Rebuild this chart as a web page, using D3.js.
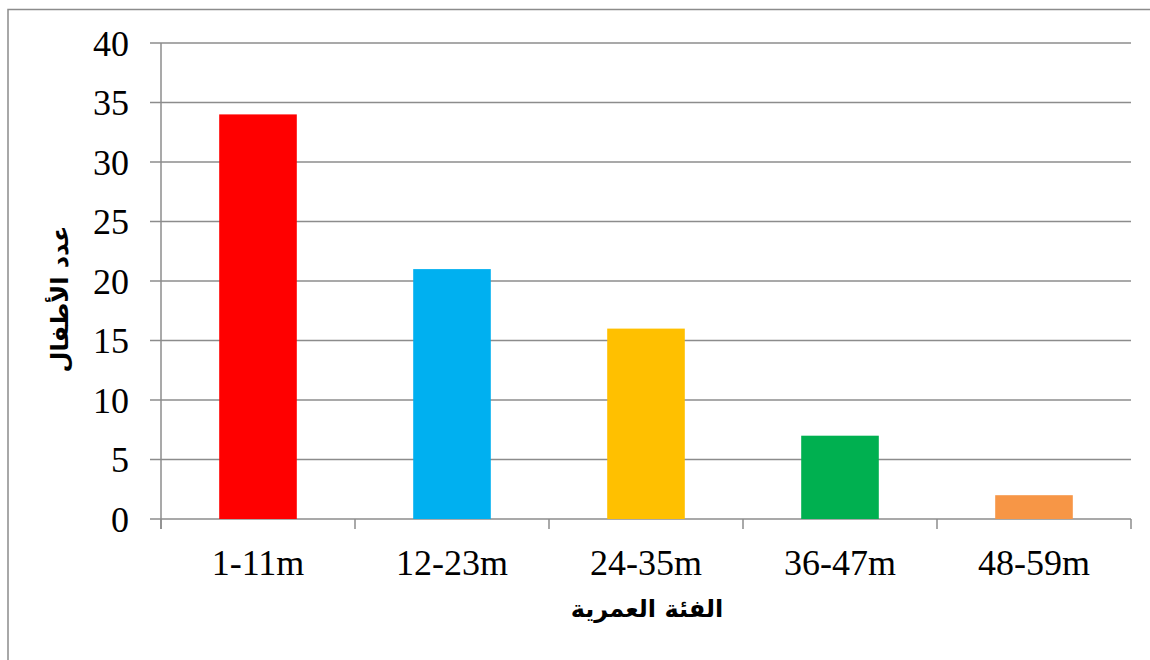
<!DOCTYPE html>
<html>
<head>
<meta charset="utf-8">
<script src="https://cdn.jsdelivr.net/npm/d3@7"></script>
<style>
  html, body { margin: 0; padding: 0; background: #fff; }
  svg { display: block; }
</style>
</head>
<body>
<svg id="chart" width="1150" height="660"></svg>
<script>
// Number of children per age group
const categories = ["1-11m", "12-23m", "24-35m", "36-47m", "48-59m"];
const counts = [34, 21, 16, 7, 2];
const barColors = ["#FF0000", "#00B0F0", "#FFC000", "#00B050", "#F79646"];
const yTicks = [0, 5, 10, 15, 20, 25, 30, 35, 40];
const yTitle = "عدد الأطفال";
const xTitle = "الفئة العمرية";

const svg = d3.select("#chart");
const axisColor = "#8c8c8c";

// chart frame
svg.append("rect")
  .attr("x", 8).attr("y", 9.5)
  .attr("width", 1160).attr("height", 670)
  .attr("fill", "none").attr("stroke", axisColor).attr("stroke-width", 1.5);

const plot = { left: 161, right: 1131, top: 43, bottom: 519 };

const x = d3.scaleBand().domain(categories).range([plot.left, plot.right]).padding(0);
const y = d3.scaleLinear().domain([0, 40]).range([plot.bottom, plot.top]);

// horizontal gridlines + left tick marks
svg.append("g").selectAll("line").data(yTicks).join("line")
  .attr("x1", plot.left - 11).attr("x2", plot.right)
  .attr("y1", d => y(d)).attr("y2", d => y(d))
  .attr("stroke", axisColor).attr("stroke-width", 1.5);

// y axis line
svg.append("line")
  .attr("x1", plot.left).attr("x2", plot.left)
  .attr("y1", plot.top).attr("y2", plot.bottom + 10)
  .attr("stroke", axisColor).attr("stroke-width", 1.5);

// x tick marks at category boundaries
const bounds = categories.map(c => x(c)).concat([plot.right]);
svg.append("g").selectAll("line").data(bounds).join("line")
  .attr("x1", d => d).attr("x2", d => d)
  .attr("y1", plot.bottom).attr("y2", plot.bottom + 10)
  .attr("stroke", axisColor).attr("stroke-width", 1.5);

// bars
const barW = x.bandwidth() * 0.4;
svg.append("g").selectAll("rect").data(counts).join("rect")
  .attr("x", (d, i) => x(categories[i]) + (x.bandwidth() - barW) / 2)
  .attr("y", d => y(d))
  .attr("width", barW)
  .attr("height", d => y(0) - y(d))
  .attr("fill", (d, i) => barColors[i]);

// y tick labels
svg.append("g").selectAll("text").data(yTicks).join("text")
  .attr("x", 129).attr("y", d => y(d))
  .attr("dy", "0.35em")
  .attr("text-anchor", "end")
  .attr("font-family", "'Liberation Serif', 'Times New Roman', serif")
  .attr("font-size", 36)
  .attr("fill", "#000")
  .text(d => d);

// x tick labels
svg.append("g").selectAll("text").data(categories).join("text")
  .attr("x", d => x(d) + x.bandwidth() / 2)
  .attr("y", 575)
  .attr("text-anchor", "middle")
  .attr("font-family", "'Liberation Serif', 'Times New Roman', serif")
  .attr("font-size", 36)
  .attr("fill", "#000")
  .text(d => d);

// axis titles
svg.append("text")
  .attr("x", 647).attr("y", 617)
  .attr("text-anchor", "middle")
  .attr("direction", "rtl")
  .attr("font-family", "'DejaVu Sans', 'Noto Sans', sans-serif")
  .attr("font-weight", "bold")
  .attr("font-size", 24)
  .text(xTitle);

svg.append("text")
  .attr("transform", "translate(68,299) rotate(-90)")
  .attr("text-anchor", "middle")
  .attr("direction", "rtl")
  .attr("font-family", "'DejaVu Sans', 'Noto Sans', sans-serif")
  .attr("font-weight", "bold")
  .attr("font-size", 24)
  .text(yTitle);
</script>
</body>
</html>
